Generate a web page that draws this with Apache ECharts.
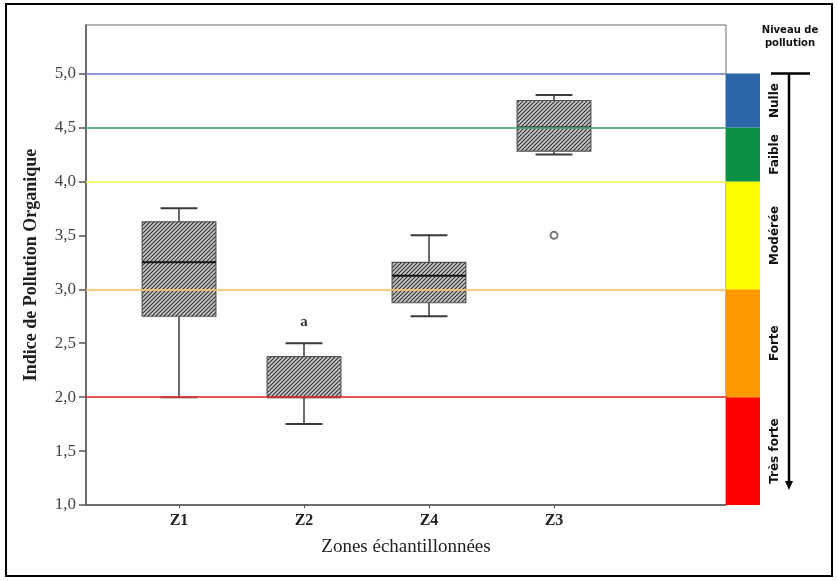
<!DOCTYPE html>
<html>
<head>
<meta charset="utf-8">
<script src="https://cdn.jsdelivr.net/npm/echarts@6/dist/echarts.min.js"></script>
<style>
html, body { margin: 0; padding: 0; background: #fff; }
#main { width: 838px; height: 581px; }
</style>
</head>
<body>
<div id="main"></div>
<script>
// zones (x position 1..4 in this order)
var zones = ['Z1', 'Z2', 'Z4', 'Z3'];
var zoneLow = [2.0, 1.75, 2.75, 4.25];
var zoneQ1 = [2.75, 2.0, 2.875, 4.28];
var zoneMedian = [3.25, 2.0, 3.125, 4.5];
var zoneQ3 = [3.625, 2.375, 3.25, 4.75];
var zoneHigh = [3.75, 2.5, 3.5, 4.8];
var zoneNotes = ['', 'a', '', ''];
var outliers = [[4, 3.5]];

var yTicks = [1.0, 1.5, 2.0, 2.5, 3.0, 3.5, 4.0, 4.5, 5.0];

// seuils
var thresholds = [5.0, 4.5, 4.0, 3.0, 2.0];
var thresholdColors = ['#7489d2', '#4fae78', '#f8f35a', '#f4c46a', '#e33a3a'];

// niveaux de pollution
var levelNames = ['Très forte', 'Forte', 'Modérée', 'Faible', 'Nulle'];
var levelLow = [1.0, 2.0, 3.0, 4.0, 4.5];
var levelHigh = [2.0, 3.0, 4.0, 4.5, 5.0];
var levelColors = ['#ff0000', '#ff9900', '#ffff00', '#0b9143', '#2d66a8'];

// hachures
var hatch = document.createElement('canvas');
hatch.width = 4; hatch.height = 4;
var hctx = hatch.getContext('2d');
hctx.fillStyle = '#cdcdcd';
hctx.fillRect(0, 0, 4, 4);
hctx.strokeStyle = '#333';
hctx.lineWidth = 1.2;
hctx.beginPath();
hctx.moveTo(0, 4); hctx.lineTo(4, 0);
hctx.moveTo(-1, 1); hctx.lineTo(1, -1);
hctx.moveTo(3, 5); hctx.lineTo(5, 3);
hctx.stroke();

var boxData = zones.map(function (z, i) {
    return [i + 1, zoneLow[i], zoneQ1[i], zoneMedian[i], zoneQ3[i], zoneHigh[i], i];
});
var levelData = levelNames.map(function (n, i) {
    return [levelLow[i], levelHigh[i], i];
});

function renderBox(params, api) {
    var x = api.value(0);
    var lo = api.coord([x, api.value(1)]);
    var q1 = api.coord([x, api.value(2)]);
    var med = api.coord([x, api.value(3)]);
    var q3 = api.coord([x, api.value(4)]);
    var hi = api.coord([x, api.value(5)]);
    var note = zoneNotes[api.value(6)];
    var w = api.size([1, 0])[0] * 0.59;
    var cap = w / 2;
    var cx = lo[0];
    var dark = '#3a3a3a';
    var children = [
        {type: 'line', shape: {x1: cx, y1: q1[1], x2: cx, y2: lo[1]}, style: {stroke: dark, lineWidth: 1.5}},
        {type: 'line', shape: {x1: cx, y1: q3[1], x2: cx, y2: hi[1]}, style: {stroke: dark, lineWidth: 1.5}},
        {type: 'line', shape: {x1: cx - cap / 2, y1: lo[1], x2: cx + cap / 2, y2: lo[1]}, style: {stroke: dark, lineWidth: 2}},
        {type: 'line', shape: {x1: cx - cap / 2, y1: hi[1], x2: cx + cap / 2, y2: hi[1]}, style: {stroke: dark, lineWidth: 2}},
        {type: 'rect', shape: {x: cx - w / 2, y: q3[1], width: w, height: q1[1] - q3[1]},
            style: {fill: {image: hatch, repeat: 'repeat'}, stroke: '#555', lineWidth: 1.2}},
        {type: 'line', shape: {x1: cx - w / 2, y1: med[1], x2: cx + w / 2, y2: med[1]}, style: {stroke: '#111', lineWidth: 2}}
    ];
    if (note) {
        children.push({type: 'text', x: cx, y: hi[1] - 21,
            style: {text: note, align: 'center', verticalAlign: 'middle', fill: '#333',
                font: 'bold 15px "Liberation Serif"'}});
    }
    return {type: 'group', children: children};
}

function renderLevel(params, api) {
    var top = api.coord([0, api.value(1)]);
    var bot = api.coord([1, api.value(0)]);
    var i = api.value(2);
    return {type: 'group', children: [
        {type: 'rect', shape: {x: top[0], y: top[1], width: bot[0] - top[0], height: bot[1] - top[1]},
            style: {fill: levelColors[i]}},
        {type: 'text', x: bot[0] + 15, y: (top[1] + bot[1]) / 2, rotation: Math.PI / 2,
            style: {text: levelNames[i], align: 'center', verticalAlign: 'middle', fill: '#111',
                font: 'bold 12px "DejaVu Sans"'}}
    ]};
}

var chart = echarts.init(document.getElementById('main'));
var option = {
    animation: false,
    backgroundColor: '#fff',
    grid: [
        {left: 86, top: 25, right: 112, bottom: 76, show: true, borderColor: '#666', borderWidth: 1, backgroundColor: 'transparent'},
        {left: 726, top: 25, width: 34, bottom: 76}
    ],
    xAxis: [{
        type: 'value', gridIndex: 0, min: 0.256, max: 5.376,
        name: 'Zones échantillonnées', nameLocation: 'middle', nameGap: 33,
        nameTextStyle: {fontFamily: 'Liberation Serif', fontSize: 19, color: '#222'},
        axisLine: {show: true, lineStyle: {color: '#555', width: 1.5}},
        axisTick: {show: true, length: 3, customValues: [1, 2, 3, 4], lineStyle: {color: '#555'}},
        axisLabel: {customValues: [1, 2, 3, 4], margin: 8,
            formatter: function (v) { return zones[Math.round(v) - 1] || ''; },
            fontFamily: 'Liberation Serif', fontWeight: 'bold', fontSize: 16, color: '#222'},
        splitLine: {show: false}
    }, {
        type: 'value', gridIndex: 1, min: 0, max: 1, show: false
    }],
    yAxis: [{
        type: 'value', gridIndex: 0, min: 1, max: 5.45,
        name: 'Indice de Pollution Organique', nameLocation: 'middle', nameGap: 46,
        nameTextStyle: {fontFamily: 'Liberation Serif', fontWeight: 'bold', fontSize: 18, color: '#222'},
        axisLine: {show: true, lineStyle: {color: '#555', width: 1.5}},
        axisTick: {show: true, length: 7, customValues: yTicks, lineStyle: {color: '#555', width: 1.5}},
        axisLabel: {customValues: yTicks, margin: 10,
            formatter: function (v) { return v.toFixed(1).replace('.', ','); },
            fontFamily: 'Liberation Serif', fontSize: 17, color: '#444'},
        splitLine: {show: false}
    }, {
        type: 'value', gridIndex: 1, min: 1, max: 5.45, show: false
    }],
    series: [
        {
            type: 'custom', name: 'box', xAxisIndex: 0, yAxisIndex: 0, z: 2,
            renderItem: renderBox, data: boxData, silent: true
        },
        {
            type: 'scatter', xAxisIndex: 0, yAxisIndex: 0, z: 4, data: outliers,
            symbol: 'circle', symbolSize: 7,
            itemStyle: {color: '#fff', borderColor: '#555', borderWidth: 2}
        },
        {
            type: 'line', xAxisIndex: 0, yAxisIndex: 0, z: 3, data: [], silent: true,
            markLine: {
                symbol: 'none', silent: true, label: {show: false},
                data: thresholds.map(function (t, i) {
                    return {yAxis: t, lineStyle: {color: thresholdColors[i], width: 2, type: 'solid', opacity: 0.85}};
                })
            }
        },
        {
            type: 'custom', name: 'niveaux', xAxisIndex: 1, yAxisIndex: 1, z: 5,
            renderItem: renderLevel, data: levelData, silent: true
        }
    ]
};
chart.setOption(option);

// flèche « Niveau de pollution »
var yTop = chart.convertToPixel({yAxisIndex: 1}, 5.0);
var yBot = chart.convertToPixel({yAxisIndex: 1}, 1.0);
var ax = 789;
chart.setOption({
    graphic: [
        {type: 'rect', shape: {x: 6, y: 4, width: 826, height: 572}, style: {fill: 'none', stroke: '#000', lineWidth: 2}},
        {type: 'text', x: ax + 1, y: 37, style: {text: 'Niveau de\npollution', align: 'center', verticalAlign: 'middle',
            fill: '#111', font: 'bold 10px "DejaVu Sans"', lineHeight: 13}},
        {type: 'line', shape: {x1: ax - 18, y1: yTop, x2: ax + 21, y2: yTop}, style: {stroke: '#000', lineWidth: 2.5}},
        {type: 'line', shape: {x1: ax, y1: yTop, x2: ax, y2: yBot - 20}, style: {stroke: '#000', lineWidth: 2.5}},
        {type: 'polygon', shape: {points: [[ax - 4, yBot - 24], [ax + 4, yBot - 24], [ax, yBot - 15]]}, style: {fill: '#000'}}
    ]
});
</script>
</body>
</html>
